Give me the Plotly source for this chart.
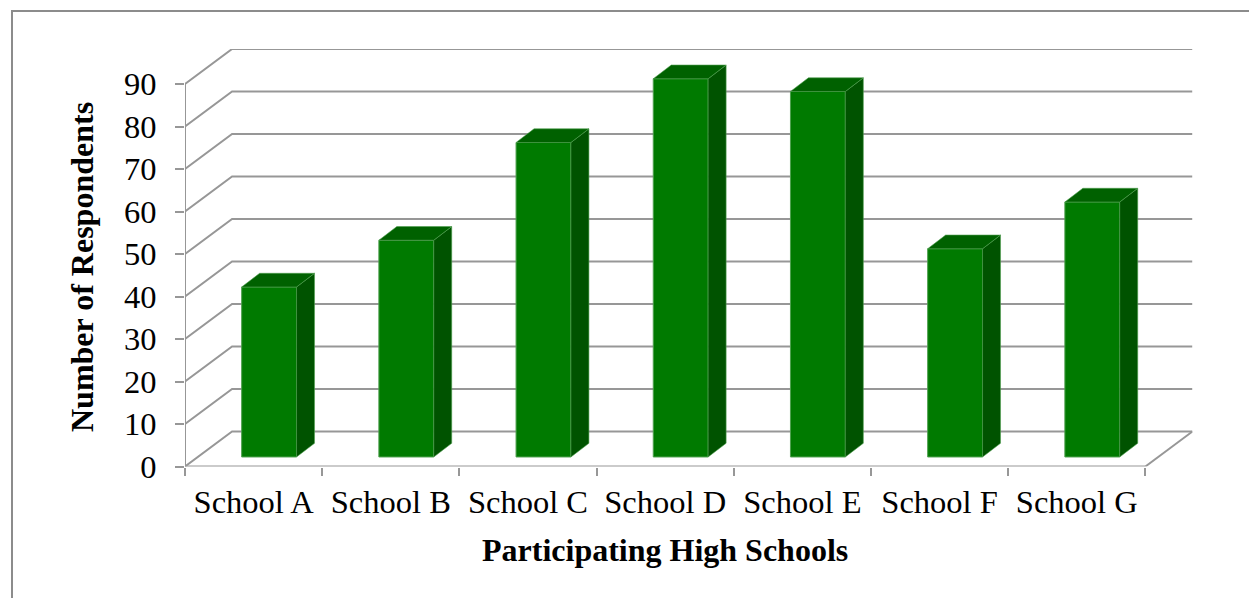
import plotly.graph_objects as go

# ---- data ----
schools = ["School A", "School B", "School C", "School D", "School E", "School F", "School G"]
respondents = [40, 51, 74, 89, 86, 49, 60]
y_ticks = [0, 10, 20, 30, 40, 50, 60, 70, 80, 90]

# ---- geometry of the oblique 3-D look (axis units) ----
W, H = 1249, 598
PLOT_LEFT_PX = 185.0      # front-left corner of the floor
ZERO_PX = 466.5           # pixel row of value 0 on the front plane
CAT_PX = 137.2            # pixels per category
UNIT_PX = 4.25            # pixels per value unit

WALL_DX, WALL_DY = 0.343, 8.24    # offset of the back wall from the front plane
BAR_DX, BAR_DY = 0.113, 2.24      # offset of the bar fronts from the front plane
DEPTH_DX, DEPTH_DY = 0.131, 3.22  # bar depth
BAR_W = 0.40

FRONT = "#007A00"
SIDE = "#005300"
TOP = "#006100"
EDGE = "#4fa04f"
GRID = "#979797"
FONT = "Liberation Serif"
TICK_SIZE = 32.5

n = len(schools)
x_max = n + WALL_DX
y_max = y_ticks[-1] + WALL_DY

x_dom = [PLOT_LEFT_PX / W, (PLOT_LEFT_PX + x_max * CAT_PX) / W]
y_dom = [(H - ZERO_PX) / H, (H - (ZERO_PX - y_max * UNIT_PX)) / H]

fig = go.Figure()

# wall gridlines: diagonal from the front axis, then along the back wall
shapes = []
for v in y_ticks:
    shapes.append(dict(
        type="path", xref="x", yref="y", layer="below",
        path=f"M 0 {v} L {WALL_DX} {v + WALL_DY} L {x_max} {v + WALL_DY}",
        line=dict(color=GRID, width=2),
    ))
# right edge of the floor
shapes.append(dict(type="line", xref="x", yref="y", layer="below",
                   x0=n, y0=0, x1=x_max, y1=WALL_DY, line=dict(color=GRID, width=2)))
# front axis lines
shapes.append(dict(type="line", xref="x", yref="y", layer="below",
                   x0=0, y0=0, x1=0, y1=y_ticks[-1], line=dict(color=GRID, width=2)))
shapes.append(dict(type="line", xref="x", yref="y", layer="below",
                   x0=0, y0=0, x1=n, y1=0, line=dict(color=GRID, width=2)))
# chart border
shapes.append(dict(type="rect", xref="paper", yref="paper",
                   x0=12 / W, y0=-0.05, x1=1.05, y1=1 - 11 / H,
                   line=dict(color="#8c8c8c", width=2)))

centers = [i + 0.5 for i in range(n)]
bar_x = [c + BAR_DX for c in centers]

# bar fronts
fig.add_trace(go.Bar(
    x=bar_x, y=respondents, base=BAR_DY, width=BAR_W,
    marker=dict(color=FRONT, line=dict(color=EDGE, width=1)),
    hoverinfo="skip", showlegend=False,
))

# bar sides and tops
side_x, side_y, top_x, top_y = [], [], [], []
for bx, v in zip(bar_x, respondents):
    xl, xr = bx - BAR_W / 2, bx + BAR_W / 2
    b, t = BAR_DY, BAR_DY + v
    side_x += [xr, xr + DEPTH_DX, xr + DEPTH_DX, xr, xr, None]
    side_y += [b, b + DEPTH_DY, t + DEPTH_DY, t, b, None]
    top_x += [xl, xl + DEPTH_DX, xr + DEPTH_DX, xr, xl, None]
    top_y += [t, t + DEPTH_DY, t + DEPTH_DY, t, t, None]

fig.add_trace(go.Scatter(x=side_x, y=side_y, mode="lines", fill="toself",
                         fillcolor=SIDE, line=dict(color=EDGE, width=0.6),
                         hoverinfo="skip", showlegend=False))
fig.add_trace(go.Scatter(x=top_x, y=top_y, mode="lines", fill="toself",
                         fillcolor=TOP, line=dict(color=EDGE, width=0.6),
                         hoverinfo="skip", showlegend=False))

fig.update_layout(
    width=W, height=H, autosize=False,
    margin=dict(l=0, r=0, t=0, b=0),
    paper_bgcolor="white", plot_bgcolor="white",
    font=dict(family=FONT, color="black"),
    shapes=shapes,
    xaxis=dict(
        domain=x_dom, range=[0, x_max], automargin=False,
        showgrid=False, zeroline=False, showline=False,
        tickmode="array", tickvals=centers, ticktext=schools, ticks="",
        tickfont=dict(family=FONT, size=TICK_SIZE), ticklabelstandoff=13,
        minor=dict(tickmode="array", tickvals=list(range(n + 1)), ticks="outside",
                   ticklen=8, tickwidth=2, tickcolor=GRID, showgrid=False),
    ),
    yaxis=dict(
        domain=y_dom, range=[0, y_max], automargin=False,
        showgrid=False, zeroline=False, showline=False,
        tickmode="array", tickvals=y_ticks, ticks="outside", ticklen=9, tickwidth=2,
        tickcolor=GRID, tickfont=dict(family=FONT, size=TICK_SIZE), ticklabelstandoff=12,
    ),
    annotations=[
        dict(text="<b>Participating High Schools</b>", xref="paper", yref="paper",
             x=665 / W, y=1 - 550 / H, xanchor="center", yanchor="middle",
             showarrow=False, font=dict(family=FONT, size=32)),
        dict(text="<b>Number of Respondents</b>", xref="paper", yref="paper",
             x=82 / W, y=1 - 267 / H, xanchor="center", yanchor="middle", textangle=-90,
             showarrow=False, font=dict(family=FONT, size=32)),
    ],
)

fig.write_html("out.html")
